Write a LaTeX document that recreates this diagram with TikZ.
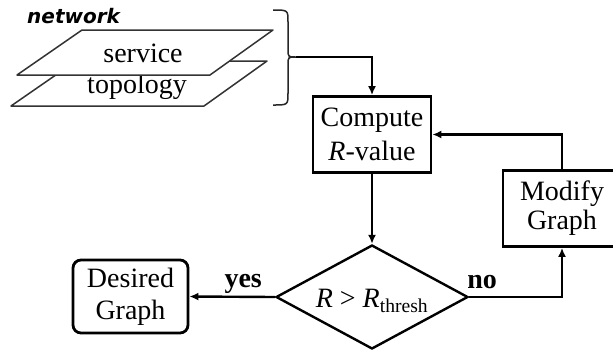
\documentclass[tikz,border=0pt]{standalone}
\usepackage{fontspec}
\setmainfont{Liberation Serif}
\newfontfamily\layerfont{DejaVu Sans}
\usetikzlibrary{shapes.geometric,arrows.meta}
\begin{document}
\begin{tikzpicture}[x=1pt,y=-1pt,
  every node/.style={font=\fontsize{28}{32}\selectfont},
  box/.style={draw, line width=2.8pt, minimum width=118pt, minimum height=76pt,
    align=center, inner sep=0pt},
  flow/.style={line width=2.4pt, -{Latex[length=9pt,width=8pt]}},
  plane/.style={draw=black!80, line width=1.5pt, fill=white, line join=round},
  answer/.style={font=\fontsize{28}{32}\selectfont\bfseries, inner sep=0pt},
]
\useasboundingbox (0,0) rectangle (613,349);

% stacked network layers
\draw[plane] (11,106) -- (204,106) -- (267,61) -- (76,61) -- cycle;
\node[anchor=base, inner sep=0pt] (topology) at (137,93) {topology};
\draw[plane] (17,75) -- (210,75) -- (273,30) -- (82,30) -- cycle;
\node[anchor=base, inner sep=0pt] (service) at (143,62) {service};
\node[anchor=base west, inner sep=0pt,
  font=\layerfont\bfseries\itshape\fontsize{20}{20}\selectfont] (network) at (27,23) {network};

% brace gathering both layers
\draw[line width=1.5pt, draw=black!85]
  (273,10) .. controls (288,10) .. (288,22) -- (288,49)
  .. controls (288,57) .. (296,57)
  .. controls (288,57) .. (288,65) -- (288,93)
  .. controls (288,105) .. (273,105);
\coordinate (bracetip) at (296,57);

% flow chart
\node[box, font=\fontsize{28}{34}\selectfont] (compute) at (372,134.5) {Compute\\\textit{R}-value};
\node[box, font=\fontsize{28}{29}\selectfont] (modify) at (562,208.5) {Modify\\Graph};
\node[box, rounded corners=8pt, minimum width=115pt, minimum height=73pt,
  font=\fontsize{28}{32}\selectfont] (desired) at (130.5,296.5) {Desired\\Graph};
\node[draw, diamond, aspect=1.85, minimum width=192pt, minimum height=104pt,
  inner sep=0pt, line width=2.4pt] (test) at (372,297) {};
\node[anchor=base, inner sep=0pt] (testlabel) at (372,307)
  {\textit{R} > \textit{R}\textsubscript{thresh}};

\draw[flow] (bracetip) -| (compute.north);
\draw[flow] (compute.south) -- (test.north);
\draw[flow] (test.west) -- node[answer, pos=0.37, anchor=base, yshift=9pt] {yes} (desired.east);
\draw[flow] (test.east) -| node[answer, pos=0.07, anchor=base, yshift=9pt] {no} (modify.south);
\draw[flow] (modify.north) |- (compute.east);
\end{tikzpicture}
\end{document}
